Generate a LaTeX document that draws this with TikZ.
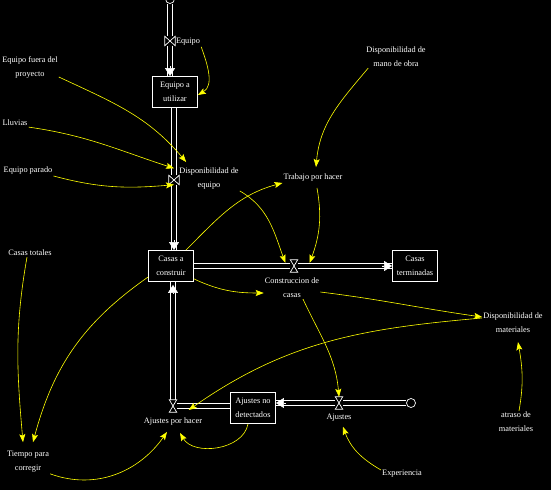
\documentclass[tikz,border=0pt]{standalone}
\usepackage{fontspec}
\setmainfont{Liberation Serif}
\usepackage{tikz}
\usetikzlibrary{arrows.meta, positioning, calc}
\definecolor{colBack}{HTML}{000000}
\definecolor{colLine}{HTML}{FFFFFF}
\definecolor{colLink}{HTML}{FFFF00}
\newcommand{\sdfont}{\fontsize{8.3}{14}\selectfont}
\tikzset{
  stock/.style={
    draw=colLine, fill=colBack, text=colLine,
    line width=0.8pt, minimum width=45pt, minimum height=31pt,
    align=center, inner sep=1pt, font=\sdfont
  },
  aux/.style={text=colLine, align=center, inner sep=1pt, font=\sdfont},
  pipe/.style={
    draw=colLine, line width=5.2pt,
    postaction={draw=colBack, line width=3.2pt}
  },
  pipetip/.style={
    draw=colLine, fill=colLine, line width=0.6pt,
    -{Triangle[length=8pt,width=10pt]}
  },
  valve/.style={draw=colLine, fill=colBack, line width=0.7pt},
  vnodev/.style={inner sep=0pt, minimum width=10pt, minimum height=9pt},
  vnodeh/.style={inner sep=0pt, minimum width=7pt, minimum height=12pt},
  sdcloud/.style={
    draw=colLine, fill=colBack, line width=0.7pt,
    circle, minimum size=9pt, inner sep=0pt
  },
  link/.style={
    draw=colLink, line width=0.6pt,
    -{Stealth[length=8pt,width=6pt,inset=1.5pt]}
  }
}
% bowtie on a vertical pipe, hourglass on a horizontal pipe
\newcommand{\valvev}[1]{%
  \draw[valve] (#1.north west) -- (#1.south east) -- (#1.north east) -- (#1.south west) -- cycle;}
\newcommand{\valveh}[1]{%
  \draw[valve] (#1.north west) -- (#1.north east) -- (#1.south west) -- (#1.south east) -- cycle;}

\begin{document}
\begin{tikzpicture}[x=1pt, y=1pt]
  \fill[colBack] (0,0) rectangle (551,490);
  \useasboundingbox (0,0) rectangle (551,490);

  %% ── Stocks ───────────────────────────────────────────────────────
  \node[stock] (equtil)  at (175,398) {Equipo a\\utilizar};
  \node[stock] (casas)   at (171,224) {Casas a\\construir};
  \node[stock] (casterm) at (415,224) {Casas\\terminadas};
  \node[stock] (ajnd)    at (253,82)  {Ajustes no\\detectados};

  %% ── Valves and clouds ────────────────────────────────────────────
  \node[vnodev] (veq)  at (170,449) {};
  \node[vnodev] (vdeq) at (174,310) {};
  \node[vnodeh] (vcons) at (294,224) {};
  \node[vnodeh] (vaj)  at (339,87) {};
  \node[vnodeh] (vaph) at (173,84) {};
  \node[sdcloud] (cl1) at (170,491) {};
  \node[sdcloud] (cl2) at (411,87) {};

  %% ── Auxiliaries and rate names ───────────────────────────────────
  \node[aux] (equipo)   at (188,448) {Equipo};
  \node[aux] (eqfuera)  at (30,423)  {Equipo fuera del\\proyecto};
  \node[aux] (lluvias)  at (15,367)  {Lluvias};
  \node[aux] (eqparado) at (28,319)  {Equipo parado};
  \node[aux] (dispeq)   at (209,311) {Disponibilidad de\\equipo};
  \node[aux] (trabajo)  at (313,312) {Trabajo por hacer};
  \node[aux] (dispmo)   at (396,433) {Disponibilidad de\\mano de obra};
  \node[aux] (cons)     at (292,202) {Construccion de\\casas};
  \node[aux] (dispmat)  at (513,167) {Disponibilidad de\\materiales};
  \node[aux] (atraso)   at (516,68)  {atraso de\\materiales};
  \node[aux] (casastot) at (30,237)  {Casas totales};
  \node[aux] (tiempo)   at (28,28)   {Tiempo para\\corregir};
  \node[aux] (aph)      at (173,68)  {Ajustes por hacer};
  \node[aux] (ajustes)  at (339,72)  {Ajustes};
  \node[aux] (exper)    at (402,16)  {Experiencia};

  %% ── Pipes ────────────────────────────────────────────────────────
  \draw[pipe] (cl1.south) -- (veq) -- (veq |- equtil.north);
  \draw[pipe] (vdeq |- equtil.south) -- (vdeq) -- (vdeq |- casas.north);
  \draw[pipe] (casas.east) -- (vcons) -- (casterm.west);
  \draw[pipe] (cl2.west) -- (vaj) -- (vaj -| ajnd.east);
  \draw[pipe] (vaph -| ajnd.west) -- (vaph) -- (vaph |- casas.south);

  \draw[pipetip] ($(veq |- equtil.north)+(0,10)$) -- (veq |- equtil.north);
  \draw[pipetip] ($(vdeq |- casas.north)+(0,10)$) -- (vdeq |- casas.north);
  \draw[pipetip] ($(casterm.west)+(-10,0)$) -- (casterm.west);
  \draw[pipetip] ($(vaj -| ajnd.east)+(10,0)$) -- (vaj -| ajnd.east);
  \draw[pipetip] ($(vaph |- casas.south)+(0,-12)$) -- ([yshift=-3pt]vaph |- casas.south);

  \valvev{veq}
  \valvev{vdeq}
  \valveh{vcons}
  \valveh{vaj}
  \valveh{vaph}

  %% ── Causal links ─────────────────────────────────────────────────
  \draw[link] (equipo.south east) to[out=-70,in=30] ([yshift=-3pt]equtil.east);
  \draw[link] ([yshift=2pt]eqfuera.south east) to[out=-25,in=130] ([shift={(8,5)}]dispeq.north west);
  \draw[link] (lluvias.south east) to[out=-8,in=162] ([yshift=7pt]vdeq.north);
  \draw[link] (eqparado.south east) to[out=-15,in=185] (vdeq.south);
  \draw[link] (dispeq.south east) to[out=-30,in=110] ([shift={(-5,-3)}]vcons.north west);
  \draw[link] ([xshift=-8pt]casas.north east) to[out=45,in=195] (trabajo.south west);
  \draw[link] ([xshift=3pt]dispmo.south west) to[out=-130,in=85] ([shift={(3,6)}]trabajo.north);
  \draw[link] ([shift={(4,-5)}]trabajo.south) to[out=-80,in=70] ([shift={(12,-3)}]vcons.north east);
  \draw[link] ([yshift=3pt]casas.south east) to[out=-25,in=180] ([yshift=-5pt]cons.west);
  \draw[link] ([yshift=-4pt]cons.east) to[out=-7,in=172] ([yshift=6pt]dispmat.west);
  \draw[link] ([yshift=5pt]dispmat.west) to[out=185,in=35] ([shift={(12,-4)}]vaph.east);
  \draw[link] ([xshift=3pt]atraso.north) to[out=80,in=-80] ([shift={(5,-8)}]dispmat.south);
  \draw[link] ([xshift=11pt]cons.south) to[out=-65,in=95] (vaj.north);
  \draw[link] ([yshift=4pt]exper.west) to[out=150,in=-70] ([shift={(4,-4)}]ajustes.south);
  \draw[link] ([xshift=-3pt]casastot.south) to[out=-100,in=95] ([shift={(-5,8)}]tiempo.north);
  \draw[link] ([yshift=-11pt]casas.west) to[out=-145,in=75] ([shift={(5,8)}]tiempo.north);
  \draw[link] (tiempo.south east) to[out=-20,in=-125] ([shift={(-6,-5)}]aph.south);
  \draw[link] ([xshift=-5pt]ajnd.south) to[out=-100,in=-60] ([shift={(7,-6)}]aph.south);
\end{tikzpicture}
\end{document}
